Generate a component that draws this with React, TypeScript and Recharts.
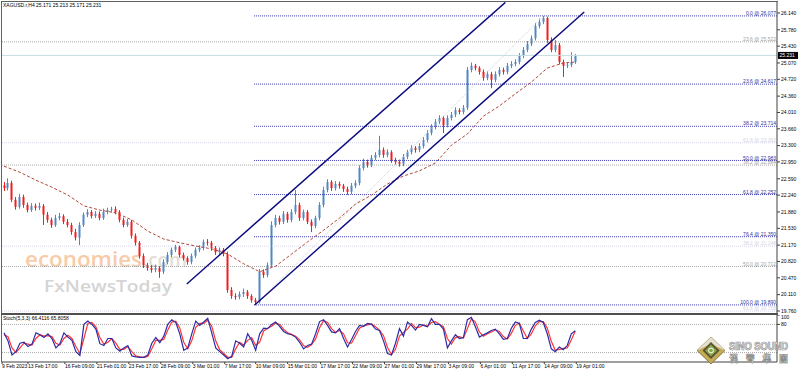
import React from 'react';
import { ComposedChart, Bar, Line, XAxis, YAxis, ReferenceLine } from 'recharts';

const FONT = '"Liberation Sans", Arial, sans-serif';

const symbolTitle = 'XAGUSD.r,H4  25.171 25.213 25.171 25.231';
const stochTitle = 'Stoch(5,3,3) 66.4116 65.8058';

// H4 candles (each slot ~ two H4 bars), prices in USD
const opens = [
  22.45, 22.39, 22.50, 22.14, 21.99, 22.20, 22.03, 21.92, 22.01, 21.97,
  22.01, 21.82, 21.71, 21.60, 21.75, 21.79, 21.67, 21.60, 21.45, 21.33,
  21.60, 21.82, 21.88, 21.79, 21.84, 21.75, 21.88, 21.92, 21.94, 21.88,
  21.71, 21.60, 21.67, 21.37, 21.22, 20.94, 20.74, 20.68, 20.64, 20.68,
  20.60, 20.81, 20.96, 21.07, 21.13, 20.96, 20.89, 20.81, 20.94, 21.07,
  21.11, 21.24, 21.22, 21.11, 21.02, 21.07, 20.98, 20.21, 20.08, 20.06,
  20.12, 20.17, 20.08, 19.99, 19.95, 20.60, 20.53, 20.74, 21.60, 21.75,
  21.67, 21.84, 21.71, 21.88, 22.03, 21.75, 21.88, 21.67, 21.58, 21.75,
  22.03, 22.35, 22.52, 22.39, 22.48, 22.44, 22.37, 22.31, 22.44, 22.50,
  22.82, 22.95, 22.89, 23.04, 23.10, 23.21, 23.10, 23.16, 22.99, 22.95,
  22.91, 23.06, 23.16, 23.25, 23.21, 23.29, 23.42, 23.57, 23.70, 23.81,
  23.89, 23.74, 23.89, 23.96, 24.06, 24.02, 24.11, 24.92, 25.01, 24.96,
  24.88, 24.75, 24.83, 24.71, 24.83, 24.92, 24.88, 25.01, 25.05, 25.09,
  25.22, 25.35, 25.48, 25.60, 25.86, 25.95, 26.03, 25.56, 25.35, 25.45,
  25.09, 25.01, 25.03, 25.09,
];
const highs = [
  22.52, 22.60, 22.55, 22.20, 22.27, 22.25, 22.08, 22.07, 22.06, 22.08,
  22.05, 21.88, 21.76, 21.82, 21.86, 21.83, 21.73, 21.65, 21.52, 21.66,
  21.87, 21.94, 21.92, 21.90, 21.89, 21.95, 21.97, 21.99, 22.00, 21.92,
  21.76, 21.73, 21.71, 21.42, 21.26, 20.99, 20.79, 20.74, 20.75, 20.72,
  20.87, 21.02, 21.12, 21.18, 21.16, 21.01, 20.93, 20.99, 21.12, 21.17,
  21.29, 21.30, 21.26, 21.15, 21.12, 21.11, 21.03, 20.27, 20.14, 20.18,
  20.24, 20.21, 20.12, 20.04, 20.66, 20.65, 20.80, 21.68, 21.82, 21.80,
  21.90, 21.88, 21.94, 22.35, 22.08, 21.93, 21.92, 21.72, 21.80, 22.09,
  22.42, 22.58, 22.56, 22.54, 22.53, 22.48, 22.42, 22.50, 22.56, 22.88,
  23.02, 23.00, 23.10, 23.16, 23.51, 23.26, 23.22, 23.20, 23.04, 23.00,
  23.12, 23.21, 23.31, 23.29, 23.35, 23.48, 23.63, 23.76, 23.87, 23.95,
  23.93, 23.95, 24.02, 24.12, 24.10, 24.17, 24.98, 25.08, 25.05, 25.00,
  24.93, 24.89, 24.88, 24.89, 24.98, 24.97, 25.07, 25.11, 25.15, 25.28,
  25.41, 25.54, 25.66, 25.93, 26.02, 26.077, 26.06, 25.62, 25.56, 25.50,
  25.14, 25.08, 25.30, 25.26,
];
const lows = [
  22.33, 22.34, 22.09, 21.93, 21.95, 21.97, 21.87, 21.88, 21.91, 21.92,
  21.60, 21.65, 21.54, 21.56, 21.70, 21.62, 21.55, 21.39, 21.27, 21.17,
  21.56, 21.77, 21.74, 21.75, 21.70, 21.71, 21.83, 21.87, 21.83, 21.66,
  21.55, 21.56, 21.31, 21.16, 20.88, 20.68, 20.62, 20.58, 20.59, 20.47,
  20.55, 20.76, 20.91, 21.02, 20.91, 20.84, 20.75, 20.76, 20.89, 21.02,
  21.06, 21.16, 21.05, 20.96, 20.97, 20.93, 20.15, 20.02, 20.00, 20.01,
  20.06, 20.02, 19.94, 19.89, 19.92, 20.47, 20.48, 20.70, 21.55, 21.61,
  21.62, 21.65, 21.66, 21.83, 21.69, 21.70, 21.62, 21.45, 21.53, 21.70,
  21.98, 22.30, 22.33, 22.34, 22.38, 22.31, 22.25, 22.26, 22.39, 22.45,
  22.77, 22.83, 22.84, 22.99, 23.05, 23.04, 23.05, 22.93, 22.89, 22.85,
  22.86, 23.01, 23.11, 23.15, 23.16, 23.24, 23.37, 23.52, 23.65, 23.76,
  23.57, 23.69, 23.84, 23.91, 23.97, 23.97, 24.06, 24.87, 24.91, 24.82,
  24.69, 24.70, 24.53, 24.66, 24.78, 24.82, 24.83, 24.96, 25.00, 25.04,
  25.17, 25.30, 25.43, 25.55, 25.81, 25.90, 25.50, 25.30, 25.30, 25.04,
  24.77, 24.96, 24.98, 25.05,
];
const closes = [
  22.39, 22.50, 22.14, 21.99, 22.20, 22.03, 21.92, 22.01, 21.97, 22.01,
  21.82, 21.71, 21.60, 21.75, 21.79, 21.67, 21.60, 21.45, 21.33, 21.60,
  21.82, 21.88, 21.79, 21.84, 21.75, 21.88, 21.92, 21.94, 21.88, 21.71,
  21.60, 21.67, 21.37, 21.22, 20.94, 20.74, 20.68, 20.64, 20.68, 20.60,
  20.81, 20.96, 21.07, 21.13, 20.96, 20.89, 20.81, 20.94, 21.07, 21.11,
  21.24, 21.22, 21.11, 21.02, 21.07, 20.98, 20.21, 20.08, 20.06, 20.12,
  20.17, 20.08, 19.99, 19.95, 20.60, 20.53, 20.74, 21.60, 21.75, 21.67,
  21.84, 21.71, 21.88, 22.03, 21.75, 21.88, 21.67, 21.58, 21.75, 22.03,
  22.35, 22.52, 22.39, 22.48, 22.44, 22.37, 22.31, 22.44, 22.50, 22.82,
  22.95, 22.89, 23.04, 23.10, 23.21, 23.10, 23.16, 22.99, 22.95, 22.91,
  23.06, 23.16, 23.25, 23.21, 23.29, 23.42, 23.57, 23.70, 23.81, 23.89,
  23.74, 23.89, 23.96, 24.06, 24.02, 24.11, 24.92, 25.01, 24.96, 24.88,
  24.75, 24.83, 24.71, 24.83, 24.92, 24.88, 25.01, 25.05, 25.09, 25.22,
  25.35, 25.48, 25.60, 25.86, 25.95, 26.03, 25.56, 25.35, 25.45, 25.09,
  25.01, 25.03, 25.09, 25.231,
];

// moving average (dashed), sampled slots
const maSlots = [0, 4, 8, 12, 16, 20, 24, 28, 32, 36, 40, 44, 48, 52, 56, 60, 64, 68, 72, 76, 80, 84, 88, 92, 96, 100, 104, 108, 112, 116, 120, 124, 128, 132, 136, 140, 143];
const maValues = [22.86, 22.73, 22.56, 22.41, 22.24, 22.01, 21.92, 21.86, 21.71, 21.47, 21.30, 21.22, 21.15, 21.09, 20.98, 20.77, 20.60, 20.72, 20.98, 21.24, 21.49, 21.75, 22.05, 22.24, 22.48, 22.65, 22.76, 22.93, 23.31, 23.55, 23.93, 24.15, 24.41, 24.66, 24.96, 25.07, 25.09];

// Stochastic (5,3,3)
const stochMain = [
  62, 45, 15, 22, 40, 42, 33, 38, 62, 58,
  52, 60, 50, 30, 39, 62, 53, 46, 22, 14,
  80, 87, 80, 70, 39, 35, 50, 50, 30, 23,
  30, 35, 13, 11, 10, 10, 15, 40, 52, 41,
  55, 80, 90, 84, 60, 25, 30, 60, 87, 78,
  85, 93, 62, 30, 22, 15, 7, 12, 45, 40,
  32, 60, 46, 25, 60, 72, 71, 80, 85, 76,
  65, 60, 58, 53, 42, 28, 35, 38, 60, 86,
  90, 78, 64, 62, 71, 50, 32, 48, 65, 78,
  76, 82, 80, 70, 67, 45, 18, 15, 40, 71,
  55, 85, 78, 68, 80, 78, 75, 92, 80, 80,
  70, 30, 45, 58, 50, 52, 90, 95, 75, 53,
  58, 62, 67, 70, 60, 48, 50, 72, 85, 82,
  50, 50, 70, 84, 89, 84, 60, 28, 22, 32,
  26, 35, 60, 66.41,
];
const stochSignal = [
  58, 54, 30, 20, 30, 40, 38, 36, 50, 58,
  55, 56, 54, 40, 36, 50, 57, 50, 33, 18,
  50, 82, 84, 75, 52, 38, 42, 50, 40, 27,
  27, 33, 22, 13, 11, 10, 12, 28, 46, 46,
  48, 68, 85, 87, 72, 42, 28, 45, 74, 82,
  82, 89, 76, 45, 26, 18, 10, 10, 28, 42,
  36, 46, 52, 35, 42, 66, 72, 76, 83, 80,
  70, 62, 59, 55, 47, 35, 31, 37, 49, 73,
  88, 84, 71, 63, 67, 60, 41, 40, 56, 72,
  77, 79, 81, 75, 68, 56, 31, 16, 27, 55,
  63, 70, 82, 73, 74, 79, 76, 84, 86, 80,
  75, 50, 38, 52, 54, 51, 71, 92, 85, 64,
  55, 60, 64, 68, 65, 54, 49, 61, 78, 83,
  66, 50, 60, 77, 86, 86, 72, 44, 25, 27,
  29, 30, 47, 65.81,
];

const priceTicks = [19.76, 20.11, 20.47, 20.82, 21.17, 21.53, 21.88, 22.24, 22.59, 22.95, 23.30, 23.66, 24.01, 24.36, 24.72, 25.07, 25.43, 25.78, 26.14];
const stochTicks = [80, 100];
const stochLevels = [20, 80];
const timeLabels = ['9 Feb 2023', '13 Feb 17:00', '16 Feb 09:00', '21 Feb 01:00', '23 Feb 17:00', '28 Feb 09:00', '3 Mar 01:00', '7 Mar 17:00', '10 Mar 09:00', '15 Mar 01:00', '17 Mar 17:00', '22 Mar 09:00', '27 Mar 01:00', '29 Mar 17:00', '3 Apr 09:00', '6 Apr 01:00', '11 Apr 17:00', '14 Apr 09:00', '19 Apr 01:00'];
const timeLabelSlots = [-0.5, 6, 15.25, 23.25, 31.25, 39.25, 47.25, 55.25, 63, 71, 79.25, 87.25, 95.25, 103.25, 111.25, 119.25, 127.25, 135.25, 143.25];

// Fibonacci retracements
const fibBlueLevels = ['0.0', '23.6', '38.2', '50.0', '61.8', '76.4', '100.0'];
const fibBluePrices = [26.077, 24.617, 23.714, 22.983, 22.252, 21.350, 19.890];
const fibGrayLevels = ['23.6', '38.2', '50.0'];
const fibGrayPrices = [25.522, 22.884, 20.712];
const fibFaintLevels = ['61.8', '38.2', '61.8'];
const fibFaintPrices = [23.362, 21.148, 19.758];
const fibBlueStart = 62.6;
const slotMin = -0.5;
const slotMax = 193.5;
const priceMin = 19.717;
const priceMax = 26.375;
const lastPrice = 25.231;

// channel and fib anchor lines (slot, price)
const channelUpper = [{ x: 45.75, y: 20.338 }, { x: 125.5, y: 26.367 }];
const channelLower = [{ x: 62.75, y: 19.888 }, { x: 145.25, y: 26.161 }];
const fibAnchor = [{ x: 63, y: 19.89 }, { x: 135, y: 26.077 }];

const UP = '#5088c6';
const DOWN = '#f41c1c';

const Candle = (props: any) => {
  const { x, y, width, height, payload } = props;
  if (!payload || height == null || isNaN(y)) return null;
  let top = y;
  let h = height;
  if (h < 0) { top = y + h; h = -h; }
  const { o, c } = payload;
  const hi = payload.h;
  const lo = payload.l;
  const ratio = hi - lo > 0 ? h / (hi - lo) : 0;
  const yO = top + (hi - o) * ratio;
  const yC = top + (hi - c) * ratio;
  const color = c >= o ? UP : DOWN;
  const cx = Math.round(x + width / 2);
  const bTop = Math.min(yO, yC);
  const bH = Math.max(1, Math.abs(yO - yC));
  return (
    <g>
      <line x1={cx + 0.5} x2={cx + 0.5} y1={top} y2={top + h} stroke={color} strokeWidth={1} />
      <rect x={cx - 0.5} y={bTop} width={2} height={bH} fill={color} />
    </g>
  );
};

const FibLabel = (props: any) => {
  const { viewBox, text, color } = props;
  if (!viewBox) return null;
  return (
    <text x={viewBox.x + viewBox.width - 1} y={viewBox.y - 0.8} textAnchor="end" fontSize={5} fill={color} fontFamily={FONT}>
      {text}
    </text>
  );
};

const PriceTag = (props: any) => {
  const { viewBox } = props;
  if (!viewBox) return null;
  const x = viewBox.x + viewBox.width + 1;
  return (
    <g>
      <rect x={x} y={viewBox.y - 3.5} width={20} height={7} fill="#000" />
      <text x={x + 1.5} y={viewBox.y + 1.8} fontSize={5} fill="#fff" fontFamily={FONT}>{lastPrice.toFixed(3)}</text>
    </g>
  );
};

const PriceTick = (props: any) => {
  const { x, y, payload } = props;
  return (
    <text x={x} y={y + 1.8} fontSize={5} fill="#000" fontFamily={FONT}>{Number(payload.value).toFixed(3)}</text>
  );
};

const StochTick = (props: any) => {
  const { x, y, payload } = props;
  const dy = payload.value === 100 ? 4 : 1.8;
  return (
    <text x={x} y={y + dy} fontSize={5} fill="#000" fontFamily={FONT}>{payload.value}</text>
  );
};

const TimeTick = (props: any) => {
  const { x, y, payload } = props;
  const idx = timeLabelSlots.indexOf(payload.value);
  return (
    <text x={x} y={y + 3} fontSize={5} fill="#000" fontFamily={FONT} textAnchor="start">{timeLabels[idx]}</text>
  );
};

export default function App() {
  const maMap: Record<number, number> = {};
  maSlots.forEach((s, k) => { maMap[s] = maValues[k]; });
  const candleData = closes.map((c, i) => ({
    i,
    o: opens[i],
    h: highs[i],
    l: lows[i],
    c,
    range: [lows[i], highs[i]],
    ma: maMap[i] !== undefined ? maMap[i] : null,
  }));
  const stochData = stochMain.map((m, i) => ({ i, main: m, signal: stochSignal[i] }));

  return (
    <div style={{ position: 'fixed', left: 0, top: 0, width: 798, height: 372, background: '#fff', fontFamily: FONT, overflow: 'hidden' }}>
      {/* watermark */}
      <svg width={798} height={372} style={{ position: 'absolute', left: 0, top: 0 }}>
        <text x={25} y={267} fontSize={22} fontWeight={600} fill="#f8cba8" fontFamily='"Open Sans", sans-serif' textLength={117} lengthAdjust="spacingAndGlyphs">economies</text>
        <text x={143} y={267} fontSize={20} fontWeight={600} fill="#e4ddd6" fontFamily='"Open Sans", sans-serif' textLength={44} lengthAdjust="spacingAndGlyphs">.com</text>
        <text x={44} y={292} fontSize={17} fontWeight={600} fill="#d4d4d4" fontFamily='"Open Sans", sans-serif' textLength={128} lengthAdjust="spacingAndGlyphs">FxNewsToday</text>
      </svg>

      {/* main price panel */}
      <div style={{ position: 'absolute', left: 0, top: 0 }}>
        <ComposedChart width={798} height={315} data={candleData} margin={{ top: 2, right: 0, bottom: 2, left: 2 }}>
          <XAxis dataKey="i" type="number" domain={[slotMin, slotMax]} allowDataOverflow hide />
          <YAxis
            orientation="right"
            width={21}
            type="number"
            domain={[priceMin, priceMax]}
            allowDataOverflow
            ticks={priceTicks}
            interval={0}
            tick={<PriceTick />}
            tickSize={3}
            tickMargin={1}
            axisLine={{ stroke: '#404040' }}
            tickLine={{ stroke: '#404040' }}
          />
          {fibGrayPrices.map((p, k) => (
            <ReferenceLine key={'g' + k} segment={[{ x: slotMin, y: p }, { x: slotMax, y: p }]} stroke="#a8a8a8" strokeDasharray="1 1" ifOverflow="hidden"
              label={<FibLabel text={`${fibGrayLevels[k]} @ ${p.toFixed(3)}`} color="#a0a0a0" />} />
          ))}
          {fibFaintPrices.map((p, k) => (
            <ReferenceLine key={'f' + k} segment={[{ x: slotMin, y: p }, { x: slotMax, y: p }]} stroke="#d6d6ea" strokeDasharray="1 1" ifOverflow="hidden"
              label={<FibLabel text={`${fibFaintLevels[k]} @ ${p.toFixed(3)}`} color="#d2d2e6" />} />
          ))}
          {fibBluePrices.map((p, k) => (
            <ReferenceLine key={'b' + k} segment={[{ x: fibBlueStart, y: p }, { x: slotMax, y: p }]} stroke="#3c3cb0" strokeDasharray="1 1" ifOverflow="hidden"
              label={<FibLabel text={`${fibBlueLevels[k]} @ ${p.toFixed(3)}`} color="#3030a0" />} />
          ))}
          <ReferenceLine y={lastPrice} stroke="#c4dde2" strokeWidth={1} label={<PriceTag />} />
          <ReferenceLine segment={fibAnchor} stroke="#d0d0d0" strokeDasharray="1 1" ifOverflow="hidden" />
          <Bar dataKey="range" shape={<Candle />} barSize={3} isAnimationActive={false} />
          <Line dataKey="ma" type="linear" stroke="#b0473c" strokeWidth={1} strokeDasharray="3 2" dot={false} connectNulls isAnimationActive={false} />
          <ReferenceLine segment={channelUpper} stroke="#0a0a80" strokeWidth={1.4} ifOverflow="hidden" />
          <ReferenceLine segment={channelLower} stroke="#0a0a80" strokeWidth={1.4} ifOverflow="hidden" />
        </ComposedChart>
      </div>

      {/* stochastic panel */}
      <div style={{ position: 'absolute', left: 0, top: 315 }}>
        <ComposedChart width={798} height={57} data={stochData} margin={{ top: 0, right: 0, bottom: 0, left: 2 }}>
          <XAxis
            dataKey="i"
            type="number"
            domain={[slotMin, slotMax]}
            allowDataOverflow
            ticks={timeLabelSlots}
            interval={0}
            height={10}
            tick={<TimeTick />}
            tickSize={2}
            tickMargin={1}
            axisLine={{ stroke: '#404040' }}
            tickLine={{ stroke: '#404040' }}
          />
          <YAxis
            orientation="right"
            width={21}
            type="number"
            domain={[0, 100]}
            allowDataOverflow
            ticks={stochTicks}
            interval={0}
            tick={<StochTick />}
            tickSize={3}
            tickMargin={1}
            axisLine={{ stroke: '#404040' }}
            tickLine={{ stroke: '#404040' }}
          />
          {stochLevels.map((v) => (
            <ReferenceLine key={v} y={v} stroke="#a8a8a8" strokeDasharray="1 1" />
          ))}
          <Line dataKey="signal" type="linear" stroke="#ff3434" strokeWidth={1.2} dot={false} isAnimationActive={false} />
          <Line dataKey="main" type="linear" stroke="#2c2ca6" strokeWidth={1.2} dot={false} isAnimationActive={false} />
        </ComposedChart>
      </div>

      {/* frame, titles, logo */}
      <svg width={798} height={372} style={{ position: 'absolute', left: 0, top: 0, pointerEvents: 'none' }}>
        <line x1={1} x2={778} y1={1.5} y2={1.5} stroke="#606060" strokeWidth={1} />
        <line x1={1.5} x2={1.5} y1={1} y2={362} stroke="#606060" strokeWidth={1} />
        <line x1={1} x2={778} y1={314} y2={314} stroke="#505050" strokeWidth={2} />
        <text x={3} y={7} fontSize={5} fill="#000" fontFamily={FONT}>{symbolTitle}</text>
        <text x={3} y={320} fontSize={5} fill="#000" fontFamily={FONT}>{stochTitle}</text>
        <g>
          <polygon points="711,337 725,350.5 711,364 697,350.5" fill="#c2aa58" stroke="#7a6a30" strokeWidth={0.8} />
          <polygon points="711,337 725,350.5 711,344 697,350.5" fill="#e4e0d0" />
          <polygon points="711,342 719.5,350.5 711,359 702.5,350.5" fill="#5a5030" />
          <polygon points="711,344.5 717,350.5 711,356.5 705,350.5" fill="#86a848" />
          <circle cx={711} cy={350.5} r={2.4} fill="none" stroke="#fff" strokeWidth={1} />
          <text x={729} y={350} fontSize={10} fontWeight="bold" fill="#fff" stroke="#8c8c8c" strokeWidth={0.7} fontFamily={FONT} textLength={59} lengthAdjust="spacingAndGlyphs">SINO SOUND</text>
          <text x={729} y={361.5} fontSize={9} fontWeight="bold" fill="#fff" stroke="#8c8c8c" strokeWidth={0.6} fontFamily='"Noto Sans CJK TC", sans-serif' textLength={59} lengthAdjust="spacing">漢聲集團</text>
        </g>
      </svg>
    </div>
  );
}
